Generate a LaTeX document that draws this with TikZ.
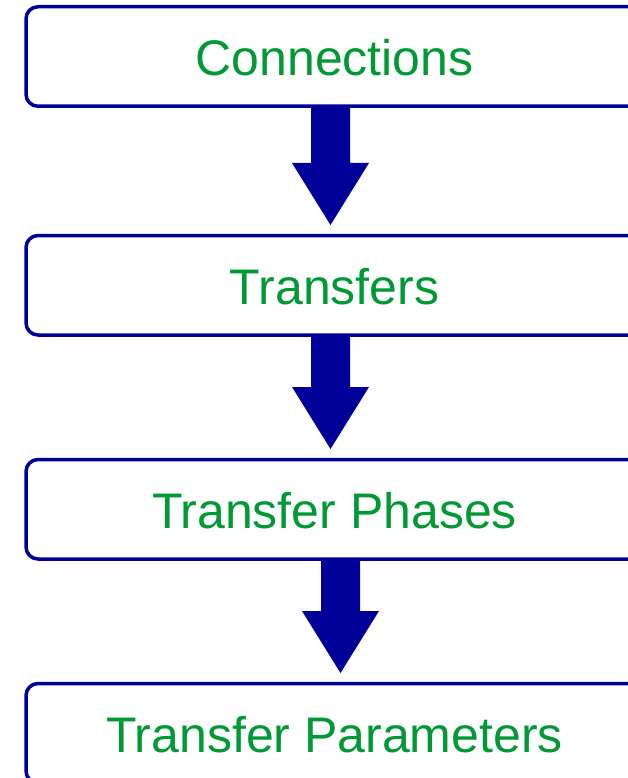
\documentclass[tikz,border=0pt]{standalone}
\usepackage{fontspec}
\setmainfont{Liberation Sans}
\usetikzlibrary{calc}
\definecolor{boxblue}{RGB}{0,0,153}
\definecolor{textgreen}{RGB}{0,153,51}
\tikzset{
  stagebox/.style={draw=boxblue, line width=3.5pt, rounded corners=12pt,
    minimum width=617pt, minimum height=99.5pt, inner sep=0pt, outer sep=0pt,
    text height=38.5pt, text depth=0pt, text=textgreen,
    font=\fontsize{50}{60}\selectfont},
  arrowfill/.style={fill=boxblue}
}
\newcommand\blockarrow[3]{%
  \fill[arrowfill] let \p1=(#1.south), \p2=(#2.north) in
    ({\x1+#3pt-19.5pt},\y1) -- ({\x1+#3pt+19.5pt},\y1)
    -- ({\x1+#3pt+19.5pt},{\y2+72.5pt}) -- ({\x1+#3pt+38.5pt},{\y2+72.5pt})
    -- ({\x1+#3pt},{\y2+10.5pt})
    -- ({\x1+#3pt-38.5pt},{\y2+72.5pt}) -- ({\x1+#3pt-19.5pt},{\y2+72.5pt})
    -- cycle;}
\begin{document}
\begin{tikzpicture}[x=1pt,y=-1pt]
\useasboundingbox (0,0) rectangle (628,778);
\clip (0,0) rectangle (628,778);
\node[stagebox] (b1) at (334.5,56.5) {Connections};
\node[stagebox] (b2) at (334.5,285.25) {Transfers};
\node[stagebox] (b3) at (334.5,509.25) {Transfer Phases};
\node[stagebox] (b4) at (334.5,733.25) {Transfer Parameters};
\blockarrow{b1}{b2}{-4}
\blockarrow{b2}{b3}{-4}
\blockarrow{b3}{b4}{6}
\end{tikzpicture}
\end{document}
